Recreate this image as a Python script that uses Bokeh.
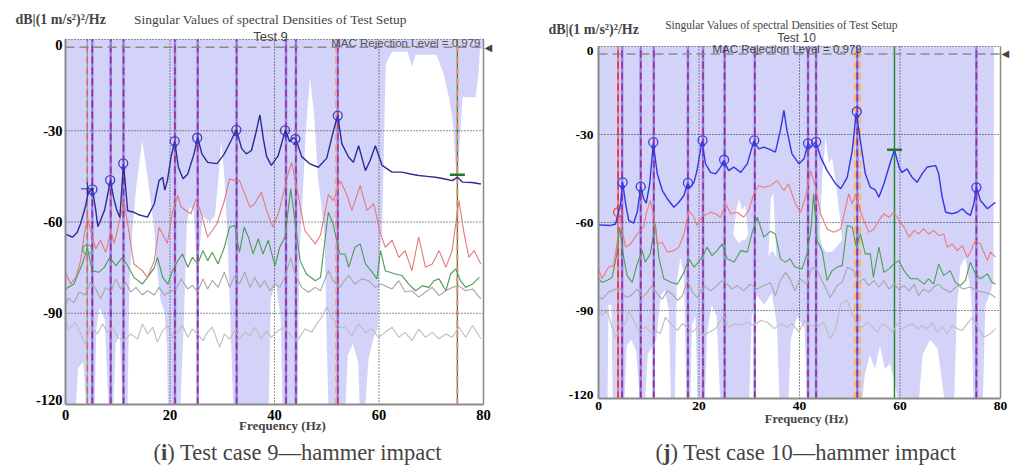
from bokeh.plotting import figure
from bokeh.models import Range1d, Label
from bokeh.core.properties import value
from bokeh.embed import file_html
from bokeh.resources import INLINE

# ------------------------------------------------------------------ data
x_ticks = [0, 20, 40, 60, 80]
y_ticks = [-120, -90, -60, -30, 0]
mac_level = 0.979

# ---------- Test 9 (left panel)
t9_sv1_f = [0, 1.3, 2.2, 2.9, 3.8, 4.3, 5.1, 5.7, 6.2, 6.7, 7.5, 8.6, 9.2, 9.8, 10.4, 11.1, 11.9, 13.1, 14.0, 15.7,
            17.0, 17.9, 18.6, 19.0, 19.5, 20.2, 20.9, 21.6, 22.5, 23.4, 24.6, 25.3, 26.1, 27.2, 29.0, 30.4, 31.7, 32.7,
            33.7, 34.6, 35.6, 36.4, 37.2, 37.9, 38.5, 39.4, 40.7, 42.1, 42.9, 43.6, 44.1, 45.2, 46.8, 48.4, 50.0, 51.3,
            52.1, 52.9, 54.2, 55.1, 56.1, 57.4, 58.3, 59.3, 60.6, 62.5, 64.4, 66.0, 67.6, 69.2, 70.8, 72.4, 74.0, 75.0,
            76.0, 77.8, 79.5]
t9_sv1_db = [-64, -65, -63.5, -60.5, -55, -50.8, -48.8, -55, -61.5, -59.5, -56, -46.3, -52, -56, -58.5, -40.8, -56.3,
             -56.8, -57.6, -58.4, -54, -46.4, -45.3, -49.5, -46.4, -38.7, -33.4, -42, -45.8, -44.2, -37.6, -32.2, -37.6,
             -40.4, -40.8, -37.6, -33.2, -29.6, -35.8, -37.6, -36.5, -31, -24.8, -33, -38.5, -41.4, -38.2, -29.7, -33.6,
             -32.3, -32.8, -38.5, -40.9, -42, -39, -29.9, -25, -34.3, -38.7, -40.4, -34.9, -43.1, -39.8, -34.9, -41.4,
             -43.6, -43.6, -44.2, -44.7, -45, -45.3, -45.8, -46.4, -45.3, -46.9, -47, -47.5]

t9_sv2_f = [0, 1, 2, 2.9, 3.6, 4.2, 4.8, 5.8, 6.7, 7.7, 8.7, 9.3, 10.3, 11.2, 12.1, 13.1, 14.7, 15.7, 17.0, 17.9,
            18.9, 19.5, 20.5, 21.5, 22.1, 23.1, 24.0, 25.0, 26.0, 27.2, 28.1, 29.0, 30.4, 31.4, 32.4, 33.3, 34.3, 35.3,
            36.2, 37.5, 38.5, 39.7, 40.9, 42.6, 43.3, 44.6, 45.8, 47.8, 48.8, 50.3, 51.3, 52.6, 53.8, 54.8, 56.4, 57.7,
            59.0, 60.3, 61.2, 62.5, 63.8, 65.0, 66.3, 67.6, 68.9, 70.2, 71.5, 72.8, 74.0, 75.3, 76.3, 77.2, 78.2, 79.5]
t9_sv2_db = [-76.5, -80.4, -78, -72.7, -64, -58.4, -62.8, -68.8, -66, -70, -62.8, -67, -60, -53, -62.8, -73.8, -76,
             -78.2, -72.7, -61.7, -65, -67, -56.3, -51.3, -55, -56.3, -57.3, -52.4, -57.3, -65, -62.8, -60.5, -53,
             -45.8, -46.4, -46.4, -50.8, -55.2, -54, -50.2, -56.3, -61.7, -56.3, -44.2, -40.4, -51.9, -62.8, -67.2,
             -64.3, -51, -53, -46.4, -50.8, -56.2, -48, -56.2, -54, -63.9, -68.3, -66, -71.6, -69.4, -76, -65, -74.9,
             -73.8, -69.4, -74.9, -69.4, -53, -63.9, -71.6, -69.4, -73.8]

t9_sv3_f = [0, 1.6, 3.2, 4.2, 5.1, 6.4, 7.4, 8.5, 9.6, 10.9, 11.9, 13.1, 14.7, 15.7, 17.0, 17.6, 18.6, 19.6, 20.5,
            21.5, 22.4, 23.4, 24.3, 25.3, 26.3, 27.2, 28.1, 29.2, 30.4, 31.4, 32.4, 33.3, 34.2, 35.0, 35.9, 36.9, 37.8,
            38.8, 40.1, 41.0, 42.0, 43.1, 43.9, 44.9, 46.1, 47.8, 48.8, 50.3, 51.2, 52.5, 53.5, 54.2, 55.4, 56.4, 57.4,
            58.7, 59.6, 60.3, 61.2, 63.1, 64.4, 65.7, 67.0, 68.3, 69.6, 70.5, 71.5, 72.8, 73.7, 74.7, 75.6, 76.6, 77.9,
            79.2]
t9_sv3_db = [-82, -80.4, -73.8, -68.5, -76, -76.5, -75, -71.6, -74.4, -71.6, -74.4, -78.2, -80.4, -78.2, -75, -71.6,
             -78.2, -80.4, -76, -72.7, -70.5, -74.9, -71.6, -73.8, -69.4, -72.7, -70, -73.8, -68.3, -61.7, -61.1, -70,
             -61.7, -65, -70.5, -65.5, -70.5, -66, -74.4, -68.3, -65, -49.1, -59.5, -72.7, -77.1, -79.3, -78.2, -56.8,
             -60.6, -70.5, -70.5, -74.9, -68.3, -67.2, -73.8, -76.5, -78.7, -69.4, -76, -77.1, -77.6, -80.4, -82.6,
             -81, -81.5, -79.3, -78.7, -82.6, -77.1, -75.4, -79.3, -81.5, -80.4, -78.2]

t9_sv4_f = [0, 0.6, 1.6, 2.6, 3.8, 4.8, 5.8, 6.7, 7.7, 8.7, 9.6, 10.6, 11.5, 12.5, 13.5, 14.7, 15.7, 17.0, 17.9, 18.9,
            19.9, 21.2, 22.1, 23.4, 24.3, 25.3, 26.3, 27.2, 28.1, 29.2, 30.4, 31.4, 32.4, 33.3, 34.3, 35.3, 36.2, 37.2,
            38.1, 39.1, 40.1, 41.0, 42.0, 43.1, 43.9, 45.2, 46.5, 47.8, 48.8, 50.3, 51.2, 52.5, 53.5, 54.2, 55.4, 56.7,
            58.0, 59.3, 60.3, 61.2, 62.5, 63.8, 65.0, 66.3, 67.6, 68.9, 70.2, 71.5, 72.8, 74.0, 75.3, 76.6, 77.9, 79.5]
t9_sv4_db = [-88, -85, -86.6, -83, -84, -79.8, -82, -85.3, -81.5, -83, -78.7, -82, -79.8, -83, -81.5, -84, -82.6, -84,
             -81.5, -84, -83, -82, -78.7, -82, -80.9, -83, -78.7, -82, -79.2, -81.5, -76.5, -81.5, -77.6, -80.4, -76.5,
             -81.5, -78.2, -81.5, -79.3, -82.6, -80.4, -81.5, -78.2, -71.6, -77.1, -81.5, -83.1, -81.5, -82.6, -76,
             -79.3, -81.5, -79, -77.6, -80.4, -78.7, -79.3, -81.5, -80.4, -81, -82, -79.3, -83, -82.6, -84.7, -83,
             -81.5, -84.2, -82.6, -81.5, -81, -82.6, -82, -85.3]

t9_sv5_f = [0, 0.6, 1.9, 2.9, 3.8, 4.8, 6.1, 7.1, 8.0, 9.0, 10.0, 11.2, 12.5, 13.8, 14.7, 15.7, 16.7, 17.6, 18.6, 19.6,
            20.5, 21.5, 22.4, 23.4, 24.3, 25.3, 26.3, 27.2, 28.1, 29.5, 30.4, 31.4, 32.4, 33.3, 34.3, 35.3, 36.2, 37.5,
            38.5, 39.4, 40.7, 42.0, 43.3, 44.6, 45.8, 47.1, 48.1, 49.0, 50.0, 51.0, 52.5, 53.5, 54.8, 56.1, 57.4, 58.7,
            59.9, 61.2, 62.5, 63.8, 65.0, 66.3, 67.6, 68.9, 70.2, 71.5, 72.8, 74.0, 75.3, 76.6, 77.9, 79.5]
t9_sv5_db = [-92.4, -95.2, -93, -96.8, -100.1, -94, -96.8, -93.5, -96.2, -94.6, -97.9, -99, -96.8, -98.5, -93.5,
             -96.8, -94.6, -99.5, -95.7, -94, -97.9, -96.2, -94, -97.9, -95.2, -96.8, -99, -96.2, -94.6, -101.2, -96.8,
             -98.5, -95.7, -98.5, -96.2, -97.4, -94.6, -98.5, -95.7, -97.9, -95.7, -94.6, -97.9, -98.5, -95.2, -96.2,
             -93.5, -91.3, -88, -91.3, -94.6, -94.6, -97.4, -93.5, -96.3, -95.2, -97.9, -96.3, -94.6, -97.9, -96.3,
             -99, -95.2, -97.9, -96.3, -98.4, -96.8, -97.9, -94.6, -97.9, -94, -98.4]

t9_modes = [5.13, 8.65, 11.1, 20.95, 25.3, 32.75, 42.2, 44.1, 52.1]
t9_peak_f = [5.15, 8.55, 11.05, 20.9, 25.2, 32.7, 42.0, 44.0, 52.1]
t9_peak_db = [-49.3, -46.2, -40.7, -33.4, -32.3, -29.7, -29.9, -32.7, -25.0]
t9_sv3_mode = [4.17]
t9_sv3_peak_db = [-69.0]
t9_other_mode = [51.8]
t9_green_mode = [75.0]
t9_green_mark_db = [-44.5]
t9_cross_f = [4.2]
t9_cross_db = [-49.1]

# MAC-rejected (white) zones: frequencies, upper edge, lower edge (None = bottom of scale)
t9_zones = [
    ([2.0, 2.4, 3.4, 3.9], [-120, -108, -106, -120], None),
    ([5.6, 5.9, 6.5, 7.5, 8.2], [-120, -95, -88, -92, -120], None),
    ([9.2, 9.6, 10.4, 10.9], [-120, -100, -97, -120], None),
    ([11.9, 12.2, 12.8, 13.5, 14.7, 16.0, 17.0, 17.5, 18.2, 19.0, 19.4, 19.6],
     [-120, -82, -63, -49, -33, -49, -63, -75, -86, -90, -100, -120], None),
    ([22.0, 22.6, 23.2, 23.7, 24.5, 25.0, 25.3, 25.6, 26.2, 27.5, 28.6, 29.3, 29.8, 30.4, 31.0, 31.6, 32.1],
     [-120, -95, -62, -55, -56, -70, -95, -70, -58, -60, -58, -45, -33, -45, -65, -95, -120], None),
    ([38.9, 39.3, 40.3, 41.2, 41.5], [-120, -85, -80, -92, -120], None),
    ([44.4, 44.8, 45.3, 46.0, 46.8, 47.6, 48.3, 49.0, 49.6, 50.0, 50.3],
     [-120, -70, -55, -30, -12.5, -25, -45, -55, -65, -100, -120], None),
    ([53.6, 54.0, 55.0, 56.0, 56.3], [-120, -104, -100, -106, -120], None),
    ([57.4, 58.0, 59.0, 59.8, 60.1, 60.6, 61.0, 61.3, 62.5, 65.5, 66.3, 67.0, 71.0, 72.5, 73.5, 74.2, 74.6, 75.0,
      75.4, 76.0, 78.5, 79.1, 79.3, 80.0],
     [-120, -105, -98, -95, -70, -63, -30, -8, -4, -4, -9, -5, -5, -12, -20, -28, -40, -48, -35, -19, -19, -10, -3,
      -3], None),
]

# ---------- Test 10 (right panel)
t10_sv1_f = [0, 2.4, 3.4, 3.8, 4.4, 4.8, 5.4, 6.0, 7.0, 7.7, 8.4, 9.0, 9.5, 10.2, 10.9, 11.7, 12.7, 13.7, 15.0, 16.0,
             17.0, 17.7, 18.3, 19.0, 19.6, 20.6, 21.3, 22.3, 23.3, 24.3, 24.9, 25.9, 26.9, 28.3, 29.6, 30.9, 31.9, 32.9,
             33.8, 34.6, 35.2, 36.2, 36.9, 37.5, 38.5, 39.9, 40.9, 41.7, 42.3, 43.2, 44.2, 45.5, 47.2, 48.2, 49.5, 50.5,
             51.3, 52.1, 53.1, 54.1, 55.1, 55.8, 56.8, 58.1, 58.9, 59.8, 60.4, 61.4, 62.4, 63.4, 64.4, 65.4, 67.1, 67.7,
             68.4, 69.1, 70.4, 71.4, 72.4, 73.4, 74.0, 74.7, 75.2, 76.0, 77.4, 79.0]
t10_sv1_db = [-60.8, -61, -60.5, -57.6, -53.6, -46.3, -53.6, -59.3, -60.2, -56.5, -48, -51.9, -53.4, -46.8, -33,
              -43.4, -49.1, -51.9, -54.8, -53.1, -50.8, -46.8, -48, -46.3, -42.3, -32.3, -40, -42.9, -43.4, -41.1,
              -38.9, -42.3, -41.1, -42.9, -40, -32.3, -34.9, -34.3, -34.9, -35.5, -36, -28.6, -21.8, -28.6, -36.6,
              -40, -38.3, -33, -34.3, -32.5, -37.7, -42.3, -46.8, -48.5, -44.6, -35.5, -22.5, -32, -43.4, -48, -48.9,
              -51.4, -46.8, -39.4, -35.2, -41.1, -42.9, -41.7, -44.6, -46.3, -43.4, -41.1, -40.6, -43.4, -51.4, -56.5,
              -57, -56.5, -55.3, -57, -57.6, -53.6, -48, -52.5, -55.3, -53.1]

t10_sv2_f = [0, 0.7, 2.0, 3.0, 3.7, 4.1, 4.7, 5.4, 6.4, 7.7, 9.0, 9.5, 10.3, 11.0, 11.7, 12.7, 13.7, 15.0, 16.0, 17.0,
             18.0, 19.0, 19.6, 20.6, 22.3, 23.3, 24.3, 25.3, 26.3, 27.6, 28.9, 29.9, 30.9, 31.9, 32.9, 34.2, 35.5, 36.9,
             37.8, 39.2, 40.2, 41.2, 42.2, 43.2, 44.2, 45.5, 46.8, 48.2, 49.8, 50.5, 51.3, 52.1, 52.8, 53.8, 54.8, 55.8,
             56.8, 57.8, 58.8, 59.8, 60.8, 61.8, 62.8, 63.7, 64.7, 65.7, 66.7, 67.7, 68.7, 69.4, 70.4, 71.4, 72.4, 73.4,
             74.0, 75.0, 76.0, 77.4, 78.0, 79.0]
t10_sv2_db = [-75.8, -79.2, -75.2, -74.7, -67.3, -57, -62.7, -68.4, -67.3, -63.9, -61.6, -57, -52.5, -58, -67.3,
              -66.7, -70.1, -69.6, -68.4, -63.9, -56, -58.2, -61, -58, -56.5, -57, -58.2, -53.6, -57, -56.5, -58.2,
              -55.9, -50.2, -47.4, -48, -47.5, -45.7, -49.1, -46.8, -53.6, -56.5, -51.4, -42.3, -48, -57, -62.2, -63.3,
              -62.2, -50.2, -53.6, -50, -56, -59.3, -63.3, -62.2, -59.3, -57, -58.2, -56.5, -59.3, -61.6, -65, -62.7,
              -63.9, -62.2, -63.9, -62.7, -64.4, -63.9, -68.4, -67.3, -69.6, -67.9, -71.8, -70.1, -66.1, -67.3, -73,
              -70.1, -71.8]

t10_sv3_f = [0, 0.7, 1.7, 2.7, 3.6, 4.2, 5.0, 5.7, 6.7, 7.7, 8.7, 9.3, 10.3, 11.3, 12.0, 13.0, 14.4, 15.7, 17.0, 18.0,
             19.0, 19.9, 21.0, 21.6, 22.6, 23.6, 24.6, 25.6, 27.0, 28.3, 29.6, 30.6, 31.6, 32.9, 34.2, 35.2, 36.2, 37.2,
             38.1, 39.1, 40.5, 41.5, 42.3, 42.8, 43.5, 44.5, 45.5, 46.5, 47.5, 48.5, 49.5, 50.5, 51.3, 52.1, 53.1, 54.1,
             54.7, 55.8, 56.8, 57.8, 58.8, 59.8, 60.8, 62.1, 63.5, 64.8, 65.7, 66.7, 67.7, 68.7, 70.0, 71.0, 72.0, 73.0,
             74.0, 75.0, 76.0, 77.4, 78.3, 79.0]
t10_sv3_db = [-79.2, -80.4, -79.8, -78.7, -71.3, -61.6, -71.8, -78.1, -80.4, -74.1, -69.6, -73.5, -70.7, -60.5,
              -71.8, -79.2, -80.4, -81, -77, -72.4, -75.2, -73.5, -70.7, -68.4, -71.3, -69.6, -67.3, -72.4, -73.5,
              -69.6, -70.1, -63.3, -58.2, -65, -63, -63.9, -72.4, -73.5, -72.4, -75.2, -75.8, -70.7, -62, -50.2,
              -66.1, -69.6, -79.8, -76.4, -75.2, -74.7, -61, -61.6, -68.4, -63.9, -70.7, -70.7, -78.7, -68.4, -77,
              -75.8, -74.1, -73, -76.4, -79.2, -79.2, -81, -79.2, -81, -74.1, -78.1, -76.4, -80.4, -81.5, -79.8, -73.5,
              -77.5, -79.2, -77.5, -80.4, -81]

t10_sv4_f = [0, 0.7, 2.0, 3.4, 4.4, 5.4, 6.4, 7.7, 8.7, 9.7, 10.7, 11.7, 12.7, 13.7, 14.7, 15.7, 16.7, 17.7, 18.7,
             19.7, 21.0, 22.3, 23.6, 24.6, 25.6, 26.6, 27.6, 28.9, 30.2, 31.6, 32.9, 34.2, 35.2, 36.2, 37.2, 38.1, 39.1,
             40.1, 41.5, 42.5, 43.5, 44.8, 46.1, 47.5, 48.5, 49.5, 50.8, 51.8, 52.8, 53.8, 54.8, 55.8, 56.8, 57.8, 58.8,
             59.8, 60.8, 61.8, 62.8, 63.7, 64.7, 65.7, 66.7, 67.7, 68.7, 70.0, 71.4, 72.6, 74.0, 75.3, 76.6, 78.0, 79.0]
t10_sv4_db = [-85, -86.1, -83.8, -82.7, -82.7, -85.6, -85, -82.7, -85.6, -83.8, -81.5, -84.4, -86.1, -83.3, -84.4,
              -86.6, -85, -79.8, -83.8, -85.6, -81.5, -83.3, -81.5, -79.8, -81, -82.7, -81.5, -83.3, -81, -82.7, -81.5,
              -80.5, -84.9, -79.8, -77, -79.2, -83.3, -79.2, -81, -75.2, -76.4, -81, -85.6, -81.5, -80.4, -75.2, -76.4,
              -80.4, -79.2, -81.5, -79.8, -82, -79.8, -82.7, -81, -82.7, -81.5, -83.3, -81, -84.9, -82.7, -83.8, -82,
              -81, -82.7, -83.8, -81.5, -82.7, -82, -83.3, -83.8, -84.4, -85.6]

t10_sv5_f = [0, 0.7, 1.7, 2.7, 3.4, 4.4, 5.4, 6.0, 7.0, 8.0, 9.4, 10.3, 11.3, 12.3, 13.3, 14.4, 15.7, 16.7, 17.7, 18.7,
             19.7, 20.6, 22.0, 23.3, 24.3, 24.9, 25.9, 27.2, 28.3, 29.6, 30.9, 32.3, 33.6, 35.0, 36.2, 37.5, 38.5, 39.9,
             40.9, 42.2, 43.5, 44.8, 46.1, 47.2, 48.2, 49.5, 50.5, 51.5, 52.5, 53.5, 54.5, 55.5, 56.5, 57.5, 58.5, 59.5,
             60.5, 61.5, 62.5, 63.5, 64.5, 65.4, 66.4, 67.4, 68.4, 69.4, 70.4, 71.4, 72.4, 73.4, 74.4, 75.4, 76.7, 78.0,
             79.0]
t10_sv5_db = [-88.9, -91.7, -90, -95.7, -99.1, -95.7, -94.5, -90, -93.4, -96.8, -95.7, -97.4, -96.8, -97.9, -92.3,
              -94.5, -96.8, -94.5, -95.7, -97.4, -95.7, -98.5, -97.4, -96.2, -93.4, -91.7, -95.7, -94.5, -95.1, -94,
              -95.1, -93.4, -94, -96.2, -94.5, -95.7, -94.5, -97.4, -93.4, -95.1, -95.7, -94, -99.7, -96.2, -87.7,
              -86.6, -91.1, -95.1, -95.7, -94, -95.7, -97.4, -94.5, -95.7, -97.4, -94.5, -96.2, -95.1, -94.5, -96.2,
              -95.1, -96.2, -94, -97.4, -95.7, -97.9, -95.1, -96.2, -96.8, -94.5, -92.3, -95.7, -99.1, -97.9, -96.2]

t10_modes = [4.7, 8.4, 11.0, 17.8, 20.8, 25.1, 31.1, 41.7, 43.3, 51.5, 75.2]
t10_peak_f = [4.8, 8.4, 10.9, 17.8, 20.7, 25.0, 31.0, 41.7, 43.3, 51.4, 75.2]
t10_peak_db = [-46.3, -47.8, -32.6, -46.5, -32.0, -38.6, -32.0, -33.0, -32.5, -22.2, -48.0]
t10_sv2_mode = [3.9]
t10_sv2_peak_db = [-56.5]
t10_other_modes = [51.0, 52.1]
t10_green_mode = [58.9]
t10_green_mark_db = [-35.2]

t10_zones = [
    ([1.8, 2.0, 2.6, 2.8], [-120, -88, -88, -120], None),
    ([5.2, 5.6, 6.5, 7.5, 8.2], [-120, -102, -100, -104, -120], None),
    ([9.3, 9.8, 11.5, 12.4, 13.2, 14.0, 14.4], [-120, -105, -100, -85, -83, -90, -120], None),
    ([15.2, 15.6, 16.3, 17.0, 17.5], [-120, -80, -72, -78, -120], None),
    ([18.3, 18.6, 19.3, 19.7], [-120, -95, -92, -120], None),
    ([21.2, 21.6, 22.5, 23.5, 24.2], [-120, -98, -88, -92, -120], None),
    ([26.8, 27.5, 28.0, 28.6, 29.2, 29.8], [-64, -55, -52, -56, -54, -64], [-64, -66, -67, -66, -66, -64]),
    ([30.0, 30.5, 31.5, 33.0, 34.5, 35.5, 36.0], [-120, -92, -85, -88, -84, -95, -120], None),
    ([33.8, 34.3, 34.8, 35.4], [-72, -52, -50, -72], [-72, -70, -70, -72]),
    ([37.8, 38.3, 39.5, 41.0, 41.5], [-120, -100, -92, -96, -120], None),
    ([44.0, 44.5, 45.2, 45.8, 46.5, 47.5, 48.5], [-64, -45, -31, -40, -38, -50, -66],
     [-64, -68, -70, -70, -70, -68, -66]),
    ([52.5, 53.0, 54.0, 55.0, 56.0, 57.0, 58.0, 59.0, 59.5], [-120, -112, -105, -110, -102, -110, -108, -115, -120],
     None),
    ([63.8, 64.5, 66.0, 67.5, 68.8], [-120, -105, -100, -103, -120], None),
    ([70.8, 71.3, 72.0, 73.0, 74.2, 74.6], [-120, -90, -75, -72, -85, -120], None),
    ([76.5, 77.0, 78.0, 78.6, 78.7, 80.0], [-120, -88, -84, -80, 0, 0], None),
]

# ------------------------------------------------------------------ figure (canvas in page pixels)
W, H = 1013, 471
LAV = "#d3d3fa"
SERIF = "Liberation Serif"
SANS = "Liberation Sans"

p = figure(width=W, height=H, x_range=Range1d(0, W), y_range=Range1d(H, 0),
           x_axis_type=None, y_axis_type=None, title=None,
           min_border=0, min_border_left=0, min_border_right=0, min_border_top=0, min_border_bottom=0,
           output_backend="svg", toolbar_location=None)
p.outline_line_color = None
p.background_fill_color = "white"
p.border_fill_color = "white"

# frame boxes of the two panels (page pixels)
geo = {
    "t9": dict(fx0=65, fx1=483, fy0=39, fy1=404),
    "t10": dict(fx0=598, fx1=1000, fy0=46, fy1=398),
}
xr, yr = {}, {}
for name, g in geo.items():
    sx = (g["fx1"] - g["fx0"]) / (x_ticks[-1] - x_ticks[0])
    sy = (g["fy1"] - g["fy0"]) / (y_ticks[-1] - y_ticks[0])
    xr[name] = Range1d(x_ticks[0] - g["fx0"] / sx, x_ticks[-1] + (W - g["fx1"]) / sx)
    yr[name] = Range1d(y_ticks[0] - (H - g["fy1"]) / sy, y_ticks[-1] + g["fy0"] / sy)
p.extra_x_ranges = xr
p.extra_y_ranges = yr


def lab(px, py, text, **kw):
    kw.setdefault("text_baseline", "middle")
    p.add_layout(Label(x=px, y=py, text=text, **kw))


def panel(name, d, sty):
    g = geo[name]
    r = dict(x_range_name=name, y_range_name=name)
    x0, x1, y0, y1 = x_ticks[0], x_ticks[-1], y_ticks[0], y_ticks[-1]

    # frame background (MAC accepted shading)
    p.quad(left=[x0], right=[x1], bottom=[y0], top=[y1], fill_color=LAV, line_color=None, **r)
    for f, top, bot in d["zones"]:
        p.varea(x=f, y1=(bot if bot is not None else y0), y2=top, fill_color="white", **r)

    # mode lines
    for f, solid, dash, sw, dw in d["vlines"]:
        if solid:
            p.segment(x0=f, y0=y0, x1=f, y1=y1, line_color=solid, line_width=sw, **r)
        if dash:
            p.segment(x0=f, y0=y0, x1=f, y1=y1, line_color=dash, line_width=dw, line_dash="7 4", **r)

    # grid (dotted)
    inner_x = x_ticks[1:-1]
    inner_y = y_ticks[1:-1]
    p.segment(x0=inner_x, y0=[y0] * len(inner_x), x1=inner_x, y1=[y1] * len(inner_x),
              line_color="#222222", line_dash="1 2", line_width=1, **r)
    p.segment(x0=[x0] * len(inner_y), y0=inner_y, x1=[x1] * len(inner_y), y1=inner_y,
              line_color="#222222", line_dash="1 2", line_width=1, **r)

    # MAC rejection level
    mac_db = y0 + (y1 - y0) * mac_level
    p.line([x0, x1], [mac_db, mac_db], line_color="#8c8c8c", line_dash="9 5", line_width=1.5, **r)

    # singular value curves
    p.line(d["sv5"][0], d["sv5"][1], line_color="#bdbdbd", line_width=1.1, **r)
    p.line(d["sv4"][0], d["sv4"][1], line_color="#a6a6a6", line_width=1.1, **r)
    p.line(d["sv3"][0], d["sv3"][1], line_color=sty["green"], line_width=1.1, **r)
    p.line(d["sv2"][0], d["sv2"][1], line_color=sty["red"], line_width=1.1, **r)
    p.line(d["sv1"][0], d["sv1"][1], line_color=sty["blue"], line_width=1.4, **r)

    # peak markers
    p.scatter(d["peaks"][0], d["peaks"][1], marker="circle", size=9, fill_color=None,
              line_color=sty["circ"], line_width=1.3, **r)
    p.scatter(d["peaks"][0], [v - 1.5 for v in d["peaks"][1]], marker="triangle", size=4,
              fill_color=sty["circ"], line_color=sty["circ"], **r)
    p.scatter(d["circ2"][0], d["circ2"][1], marker="circle", size=9, fill_color=None,
              line_color=d["circ2"][2], line_width=1.3, **r)
    p.scatter(d["gdash"][0], d["gdash"][1], marker="dash", size=15, line_color="#1f7a2a", line_width=2.5, **r)
    if d.get("cross"):
        p.scatter(d["cross"][0], d["cross"][1], marker="cross", size=13, line_color="#2a2a90", line_width=1, **r)

    # frame border
    p.segment(x0=[x0, x0], y0=[y0, y0], x1=[x0, x1], y1=[y1, y0], line_color="#8a8a8a", line_width=2, **r)
    p.segment(x0=[x1], y0=[y0], x1=[x1], y1=[y1], line_color="#8a8a8a", line_width=1.5, **r)
    p.segment(x0=[x0], y0=[y1], x1=[x1], y1=[y1], line_color="#333333", line_dash="1 2", line_width=1, **r)

    # tick labels (through the panel scales)
    sx = (g["fx1"] - g["fx0"]) / (x1 - x0)
    sy = (g["fy1"] - g["fy0"]) / (y1 - y0)
    xl = x0 - sty["ystand"] / sx
    tf = dict(text_font=value(SERIF), text_font_style="bold", text_font_size=sty["tick_fs"], text_color="black")
    p.text(x=[xl] * len(inner_y), y=inner_y, text=[str(v) for v in inner_y], text_align="right",
           text_baseline="middle", **tf, **r)
    p.text(x=[xl], y=[y1], text=[str(y1)], text_align="right", text_baseline="top", **tf, **r)
    p.text(x=[xl], y=[y0], text=[str(y0)], text_align="right", text_baseline="bottom", **tf, **r)
    yl = y0 - sty["xstand"] / sy
    p.text(x=x_ticks, y=[yl] * len(x_ticks), text=[str(v) for v in x_ticks], text_align="center",
           text_baseline="top", **tf, **r)

    for t in sty["texts"]:
        lab(*t[:3], **t[3])


CAP = "22.5px"
sty9 = dict(tick_fs="14.5px", xstand=5, ystand=3, blue="#2b2b96", red="#e27a7a", green="#4f9a55",
            circ="#3c3cc8",
            texts=[
                (282, 425, "Frequency (Hz)", dict(text_font=SERIF, text_font_style="bold", text_font_size="13px",
                                                   text_align="center")),
                (15, 19, "dB|(1 m/s²)²/Hz", dict(text_font=SERIF, text_font_style="bold", text_font_size="14px")),
                (270, 19, "Singular Values of spectral Densities of Test Setup",
                 dict(text_font=SERIF, text_font_size="13.5px", text_align="center")),
                (270, 36, "Test 9", dict(text_font=SANS, text_font_size="13px", text_align="center")),
                (480, 42, "MAC Rejection Level = 0.979",
                 dict(text_font=SANS, text_font_size="11.5px", text_align="right", text_color="#555555")),
                (484, 47, "◀", dict(text_font="DejaVu Sans", text_font_size="10px")),
                (153, 452, "(", dict(text_font=SERIF, text_font_size=CAP)),
                (160.5, 452, "i", dict(text_font=SERIF, text_font_size=CAP, text_font_style="bold")),
                (166.8, 452, ") Test case 9—hammer impact", dict(text_font=SERIF, text_font_size=CAP)),
            ])
sty10 = dict(tick_fs="13.5px", xstand=3, ystand=5, blue="#3535e6", red="#f07878", green="#4aa050",
             circ="#3c3ce0",
             texts=[
                 (806, 418, "Frequency (Hz)", dict(text_font=SERIF, text_font_style="bold", text_font_size="12.5px",
                                                    text_align="center")),
                 (548, 29, "dB|(1 m/s²)²/Hz", dict(text_font=SERIF, text_font_style="bold", text_font_size="14px")),
                 (781, 24, "Singular Values of spectral Densities of Test Setup",
                  dict(text_font=SERIF, text_font_size="11.5px", text_align="center")),
                 (796, 37, "Test 10", dict(text_font=SANS, text_font_size="12px", text_align="center")),
                 (712, 48, "MAC Rejection Level = 0.979",
                  dict(text_font=SANS, text_font_size="11.5px", text_color="#444444")),
                 (1001, 53, "◀", dict(text_font="DejaVu Sans", text_font_size="10px")),
                 (655, 452, "(", dict(text_font=SERIF, text_font_size=CAP)),
                 (662.5, 452, "j", dict(text_font=SERIF, text_font_size=CAP, text_font_style="bold")),
                 (670, 452, ") Test case 10—hammer impact", dict(text_font=SERIF, text_font_size=CAP)),
             ])

BLUE_SOLID, PURPLE_DASH = "#8a8af2", "#a8287e"
d9 = dict(
    zones=t9_zones,
    sv1=(t9_sv1_f, t9_sv1_db), sv2=(t9_sv2_f, t9_sv2_db), sv3=(t9_sv3_f, t9_sv3_db),
    sv4=(t9_sv4_f, t9_sv4_db), sv5=(t9_sv5_f, t9_sv5_db),
    vlines=[(t9_modes, BLUE_SOLID, PURPLE_DASH, 2.5, 1.6),
            (t9_sv3_mode, "#78bca8", "#e0607a", 1.5, 1.6),
            (t9_other_mode, None, "#f0a088", 1.5, 2.0),
            (t9_green_mode, "#2a7a2a", "#e58a6a", 1.2, 2.0)],
    peaks=(t9_peak_f, t9_peak_db),
    circ2=(t9_sv3_mode, t9_sv3_peak_db, "#55a860"),
    gdash=(t9_green_mode, t9_green_mark_db),
    cross=(t9_cross_f, t9_cross_db),
)
d10 = dict(
    zones=t10_zones,
    sv1=(t10_sv1_f, t10_sv1_db), sv2=(t10_sv2_f, t10_sv2_db), sv3=(t10_sv3_f, t10_sv3_db),
    sv4=(t10_sv4_f, t10_sv4_db), sv5=(t10_sv5_f, t10_sv5_db),
    vlines=[(t10_modes, BLUE_SOLID, PURPLE_DASH, 2.5, 1.6),
            (t10_sv2_mode, "#ff5a5a", "#e0304a", 1.5, 1.6),
            (t10_other_modes, None, "#ffb43c", 1.5, 1.6),
            (t10_green_mode, "#2a8a2a", None, 1.5, 1.5)],
    peaks=(t10_peak_f, t10_peak_db),
    circ2=(t10_sv2_mode, t10_sv2_peak_db, "#e04848"),
    gdash=(t10_green_mode, t10_green_mark_db),
)

panel("t9", d9, sty9)
panel("t10", d10, sty10)

open("out.html", "w").write(file_html(p, INLINE))
